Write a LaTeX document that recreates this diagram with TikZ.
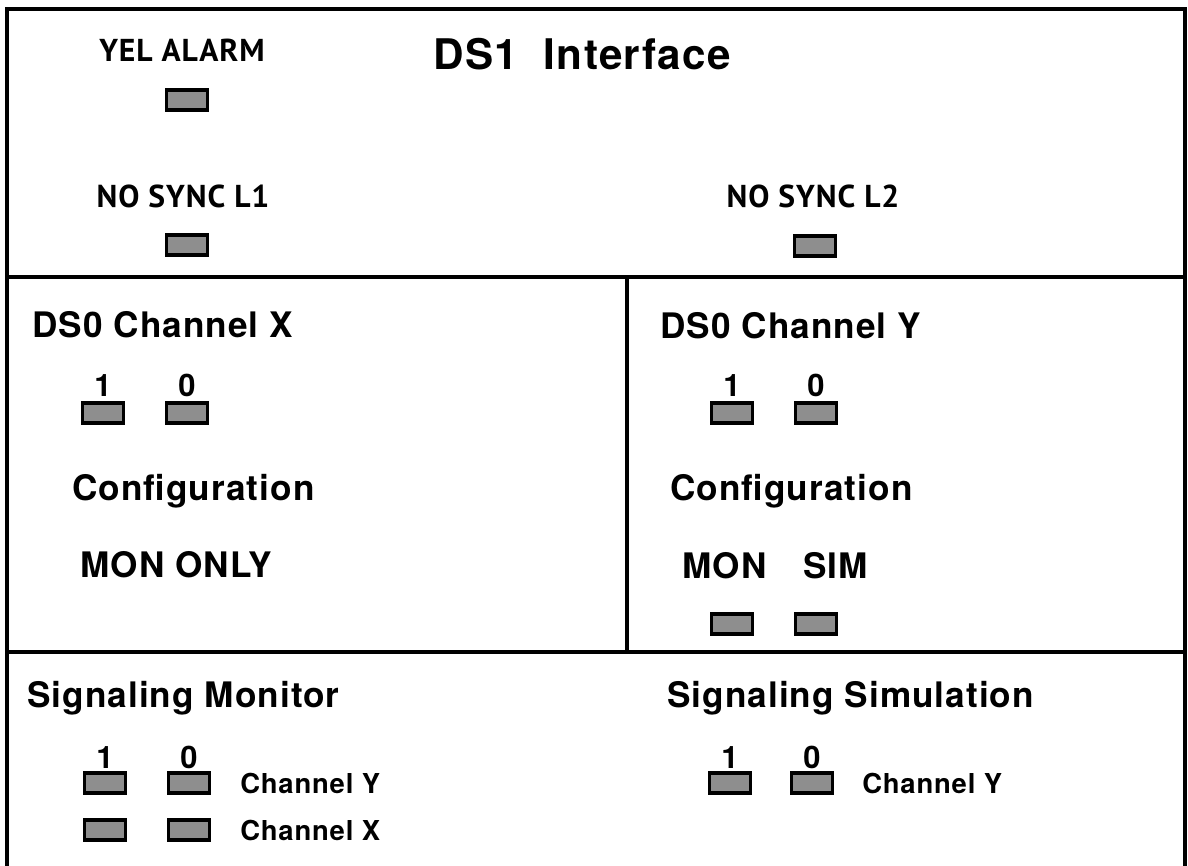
\documentclass[tikz,border=0pt]{standalone}
\usepackage{fontspec}
\setmainfont{TeX Gyre Heros}[LetterSpace=3]
\newfontfamily\lampfont{PT Sans}[LetterSpace=3]
\usepackage{tikz}
\usetikzlibrary{positioning}
\definecolor{lampgrey}{HTML}{8e8e8e}

\begin{document}
\begin{tikzpicture}[
  x=0.025cm, y=-0.025cm,
  frame/.style={line width=2.6pt},
  lamp/.style={draw, line width=2.3pt, fill=lampgrey, minimum width=1.02cm,
               minimum height=0.5cm, inner sep=0pt},
  ttl/.style={font=\fontsize{25}{27}\selectfont\bfseries, anchor=base west, inner sep=0pt},
  big/.style={font=\fontsize{30}{32}\selectfont\bfseries, anchor=base, inner sep=0pt},
  lab/.style={font=\lampfont\fontsize{22.5}{24}\selectfont\bfseries, anchor=base, inner sep=0pt},
  dig/.style={font=\fontsize{22}{24}\selectfont\bfseries, inner sep=0pt},
  chan/.style={font=\fontsize{19.5}{21}\selectfont\bfseries, anchor=base west, inner sep=0pt}]
\useasboundingbox (0,0) rectangle (1188,866);
% panel outline, open at the bottom
\draw[frame] (7,866) -- (7,9) -- (1185,9) -- (1185,866);
\draw[frame] (7,277) -- (1185,277);
\draw[frame] (7,652) -- (1185,652);
\draw[frame] (627,277) -- (627,652);

% DS1 interface
\node[big] (ds1) at (582,70) {DS1\ \ Interface};
\node[lab] (yel) at (182,62) {YEL ALARM};
\node[lamp] (yellamp) at (187,100) {};
\node[lab] (sync1) at (183,208) {NO SYNC L1};
\node[lamp] (sync1lamp) at (187,245) {};
\node[lab] (sync2) at (813,208) {NO SYNC L2};
\node[lamp] (sync2lamp) at (815,246) {};

% DS0 channel X
\node[ttl] (chx) at (32,337) {DS0 Channel X};
\node[lamp] (x1) at (103,413) {};
\node[lamp] (x0) at (187,413) {};
\node[dig, above=1.2mm of x1] (x1d) {1};
\node[dig, above=1.2mm of x0] (x0d) {0};
\node[ttl] (cfgx) at (72,500) {Configuration};
\node[ttl] (monx) at (80,577) {MON ONLY};

% DS0 channel Y
\node[ttl] (chy) at (660,338) {DS0 Channel Y};
\node[lamp] (y1) at (732,413) {};
\node[lamp] (y0) at (816,413) {};
\node[dig, above=1.2mm of y1] (y1d) {1};
\node[dig, above=1.2mm of y0] (y0d) {0};
\node[ttl] (cfgy) at (670,500) {Configuration};
\node[ttl] (mony) at (682,578) {MON};
\node[ttl] (simy) at (803,578) {SIM};
\node[lamp] (monlamp) at (732,624) {};
\node[lamp] (simlamp) at (816,624) {};

% signaling monitor
\node[ttl] (sigm) at (27,707) {Signaling Monitor};
\node[lamp] (my1) at (105,783) {};
\node[lamp] (my0) at (189,783) {};
\node[lamp] (mx1) at (105,830) {};
\node[lamp] (mx0) at (189,830) {};
\node[dig, above=0.6mm of my1] (m1d) {1};
\node[dig, above=0.6mm of my0] (m0d) {0};
\node[chan] (mchy) at (240,793) {Channel Y};
\node[chan] (mchx) at (240,840) {Channel X};

% signaling simulation
\node[ttl] (sigs) at (667,707) {Signaling Simulation};
\node[lamp] (sy1) at (730,783) {};
\node[lamp] (sy0) at (812,783) {};
\node[dig, above=0.6mm of sy1] (s1d) {1};
\node[dig, above=0.6mm of sy0] (s0d) {0};
\node[chan] (schy) at (862,793) {Channel Y};
\end{tikzpicture}
\end{document}
